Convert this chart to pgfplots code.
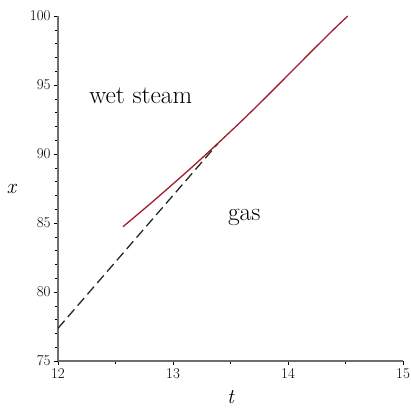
\documentclass[border=0pt]{standalone}
\usepackage{pgfplots}
\pgfplotsset{compat=1.18}
\definecolor{curvered}{RGB}{160,30,45}
\definecolor{axgray}{RGB}{110,110,110}
\begin{document}
\begin{tikzpicture}
\begin{axis}[
  at={(0,0)}, anchor=south west,
  scale only axis, width=345bp, height=345bp,
  xmin=12, xmax=15, ymin=75, ymax=100,
  axis lines=left,
  axis line style={-, axgray, line width=1.4pt},
  tick align=outside,
  major tick length=4bp, minor tick length=3bp,
  tick style={black, line width=0.6pt},
  xtick={12,13,14,15}, ytick={75,80,85,90,95,100},
  minor x tick num=1, minor y tick num=4,
  /pgf/number format/assume math mode=true,
  tick label style={font=\fontsize{15}{17}\selectfont},
  xlabel={\itshape t}, ylabel={\itshape x},
  label style={font=\fontsize{21}{24}\selectfont},
  ylabel style={rotate=-90, at={(axis description cs:-0.135,0.5)}, anchor=center},
  xlabel style={at={(axis description cs:0.5,-0.105)}, anchor=center},
  clip=false,
]
\addplot[black!85, line width=1.3pt, dash pattern=on 10bp off 5bp] coordinates {
  (12,77.37) (13.39,90.75)
};
\addplot[curvered, line width=1.3pt, smooth] coordinates {
  (12.565,84.73) (12.8,86.38) (13.0,87.83) (13.2,89.31) (13.4,90.85)
  (13.6,92.42) (13.8,94.05) (14.0,95.72) (14.2,97.40) (14.4,99.05) (14.52,100.0)
};
\node[font=\fontsize{25.5}{30}\selectfont] at (axis cs:12.72,94.2) {wet steam};
\node[font=\fontsize{25.5}{30}\selectfont] at (axis cs:13.62,85.4) {gas};
\end{axis}
\pgfresetboundingbox
\path (-58bp,-49bp) rectangle (353bp,361bp);
\end{tikzpicture}
\end{document}
